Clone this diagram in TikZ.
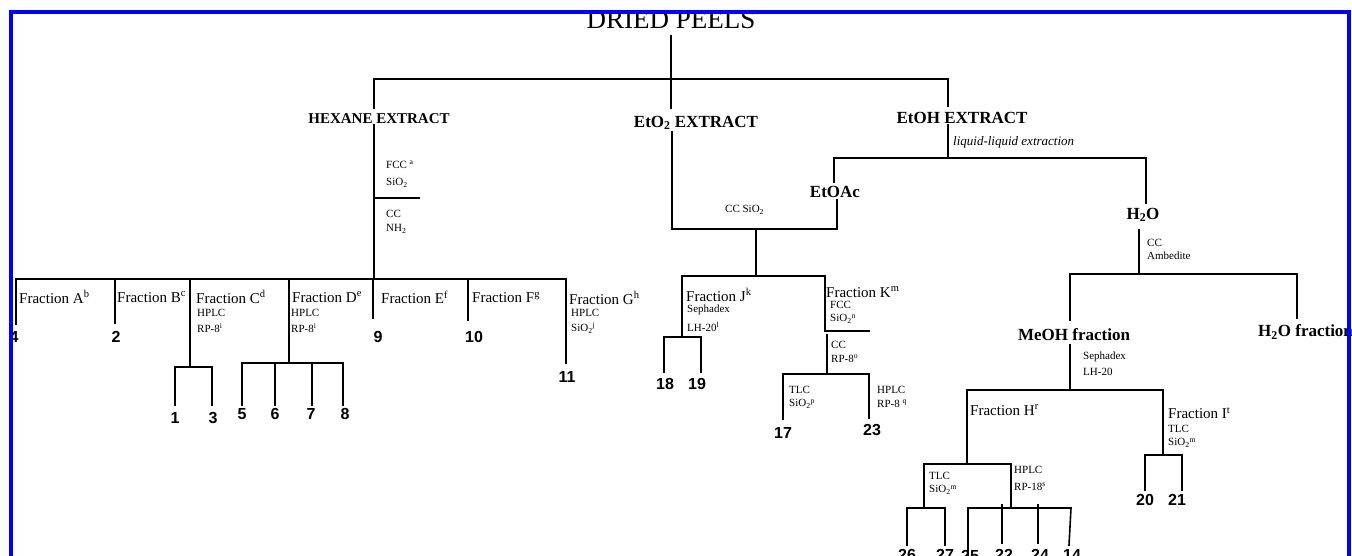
\documentclass[tikz,border=0pt]{standalone}
\usepackage{fontspec}
\setmainfont{Liberation Serif}
\newfontfamily\numfont{Liberation Sans}
\begin{document}
\begin{tikzpicture}[x=1pt,y=-1pt,
  ln/.style={line width=1.6pt, line cap=rect},
  big/.style={font=\fontsize{27}{31}\selectfont, inner sep=0pt},
  head/.style={font=\bfseries\fontsize{17}{20}\selectfont, inner sep=0pt},
  hhead/.style={font=\bfseries\fontsize{15}{18}\selectfont, inner sep=0pt},
  frac/.style={font=\fontsize{15}{18}\selectfont, inner sep=0pt, anchor=west},
  sm/.style={font=\fontsize{11}{13}\selectfont, inner sep=0pt, anchor=west},
  num/.style={font=\numfont\bfseries\fontsize{16}{19}\selectfont, inner sep=0pt},
  border/.style={draw=blue, line width=4pt}]
\useasboundingbox (0,0) rectangle (1352,556);
\fill[white] (0,0) rectangle (1352,556);

% ---------- text nodes ----------
\node[big, anchor=base] (peels) at (671,29) {DRIED PEELS};
\node[hhead] (hex) at (379,119) {HEXANE EXTRACT};
\node[head] (eto2) at (696,123) {EtO\textsubscript{2} EXTRACT};
\node[head] (etoh) at (962,118) {EtOH EXTRACT};
\node[sm, font=\itshape\fontsize{13}{15}\selectfont] (lle) at (953,142) {liquid-liquid extraction};

\node[sm] (fcc) at (386,165) {FCC \textsuperscript{a}};
\node[sm] (sio2a) at (386,183) {SiO\textsubscript{2}};
\node[sm] (cca) at (386,214) {CC};
\node[sm] (nh2) at (386,229) {NH\textsubscript{2}};

\node[frac] (fA) at (19,297) {Fraction A\textsuperscript{b}};
\node[frac] (fB) at (117,297) {Fraction B\textsuperscript{c}};
\node[frac] (fC) at (196,297) {Fraction C\textsuperscript{d}};
\node[frac] (fD) at (292,297) {Fraction D\textsuperscript{e}};
\node[frac] (fE) at (381,297) {Fraction E\textsuperscript{f}};
\node[frac] (fF) at (472,297) {Fraction F\textsuperscript{g}};
\node[frac] (fG) at (569,298) {Fraction G\textsuperscript{h}};
\node[sm] (hpC) at (197,313) {HPLC};
\node[sm] (rpC) at (197,328) {RP-8\textsuperscript{i}};
\node[sm] (hpD) at (291,313) {HPLC};
\node[sm] (rpD) at (291,328) {RP-8\textsuperscript{i}};
\node[sm] (hpG) at (571,313) {HPLC};
\node[sm] (siG) at (571,328) {SiO\textsubscript{2}\textsuperscript{j}};

\node[num] (c4) at (14,337) {4};
\node[num] (c2) at (116,337) {2};
\node[num] (c9) at (378,337) {9};
\node[num] (c10) at (474,337) {10};
\node[num] (c11) at (567,377) {11};
\node[num] (c1) at (175,418) {1};
\node[num] (c3) at (213,418) {3};
\node[num] (c5) at (242,414) {5};
\node[num] (c6) at (275,414) {6};
\node[num] (c7) at (311,414) {7};
\node[num] (c8) at (345,414) {8};

\node[sm] (ccsi) at (725,210) {CC SiO\textsubscript{2}};
\node[head] (etoac) at (835,192) {EtOAc};
\node[head] (h2o) at (1143,215) {H\textsubscript{2}O};
\node[sm] (ccb) at (1147,243) {CC};
\node[sm] (amb) at (1147,256) {Ambedite};
\node[head] (meoh) at (1074,335) {MeOH fraction};
\node[head, anchor=west] (h2of) at (1258,332) {H\textsubscript{2}O fraction};
\node[sm] (sep2) at (1083,357) {Sephadex};
\node[sm] (lh2) at (1083,372) {LH-20};

\node[frac] (fJ) at (686,295) {Fraction J\textsuperscript{k}};
\node[sm] (sepJ) at (687,310) {Sephadex};
\node[sm] (lhJ) at (687,327) {LH-20\textsuperscript{l}};
\node[num] (c18) at (665,384) {18};
\node[num] (c19) at (697,384) {19};
\node[frac] (fK) at (826,292) {Fraction K\textsuperscript{m}};
\node[sm] (fccK) at (830,305) {FCC};
\node[sm] (siK) at (830,319) {SiO\textsubscript{2}\textsuperscript{n}};
\node[sm] (ccK) at (831,345) {CC};
\node[sm] (rpK) at (831,359) {RP-8\textsuperscript{o}};
\node[sm] (tlcK) at (789,390) {TLC};
\node[sm] (siK2) at (789,404) {SiO\textsubscript{2}\textsuperscript{p}};
\node[sm] (hpK) at (877,390) {HPLC};
\node[sm] (rpK2) at (877,404) {RP-8 \textsuperscript{q}};
\node[num] (c17) at (783,433) {17};
\node[num] (c23) at (872,430) {23};

\node[frac] (fH) at (970,410) {Fraction H\textsuperscript{r}};
\node[frac] (fI) at (1168,413) {Fraction I\textsuperscript{t}};
\node[sm] (tlcI) at (1168,429) {TLC};
\node[sm] (siI) at (1168,443) {SiO\textsubscript{2}\textsuperscript{m}};
\node[sm] (tlcH) at (929,476) {TLC};
\node[sm] (siH) at (929,490) {SiO\textsubscript{2}\textsuperscript{m}};
\node[sm] (hpH) at (1014,470) {HPLC};
\node[sm] (rpH) at (1014,487) {RP-18\textsuperscript{s}};
\node[num] (c20) at (1145,500) {20};
\node[num] (c21) at (1177,500) {21};
\node[num] (c26) at (907,555) {26};
\node[num] (c27) at (945,555) {27};
\node[num] (c25) at (970,556) {25};
\node[num] (c22) at (1004,555) {22};
\node[num] (c24) at (1040,555) {24};
\node[num] (c14) at (1072,555) {14};

% ---------- coordinates ----------
\path (671,36) coordinate (p0) (671,108) coordinate (p1)
      (374,79) coordinate (tH) (948,79) coordinate (tE)
      (374,108) coordinate (hexa) (948,106) coordinate (etoha)
      (374,125) coordinate (hexb) (374,279) coordinate (hexj)
      (374,198) coordinate (hs0) (419,198) coordinate (hs1)
      (16,279) coordinate (jA) (566,279) coordinate (jG)
      (16,324) coordinate (vA) (115,323) coordinate (vB) (190,367) coordinate (vC)
      (289,363) coordinate (vD) (373,318) coordinate (vE) (468,320) coordinate (vF)
      (566,363) coordinate (vG)
      (175,405) coordinate (l1) (212,405) coordinate (l3)
      (242,405) coordinate (l5) (275,405) coordinate (l6) (312,405) coordinate (l7) (343,405) coordinate (l8)
      (672,132) coordinate (e2b) (672,229) coordinate (e2j) (837,229) coordinate (eac0) (837,200) coordinate (eac1)
      (756,229) coordinate (m1) (756,276) coordinate (m2)
      (682,276) coordinate (jT) (825,276) coordinate (kT)
      (682,337) coordinate (jB) (664,372) coordinate (l18) (701,372) coordinate (l19)
      (825,331) coordinate (kB) (869,331) coordinate (kS)
      (827,335) coordinate (kc) (827,374) coordinate (kd)
      (783,419) coordinate (l17) (869,418) coordinate (l23)
      (948,125) coordinate (ehb) (948,158) coordinate (ehj)
      (834,182) coordinate (eacT) (1146,203) coordinate (h2oT)
      (1139,230) coordinate (h2b) (1139,274) coordinate (h2j)
      (1070,320) coordinate (meT) (1297,318) coordinate (hfT)
      (1070,345) coordinate (meb) (1070,390) coordinate (mej)
      (967,464) coordinate (fHj) (1163,455) coordinate (fIj)
      (1145,490) coordinate (l20) (1182,490) coordinate (l21)
      (924,505) coordinate (tl) (1011,505) coordinate (hp)
      (924,508) coordinate (tlj) (1011,508) coordinate (hpj)
      (907,545) coordinate (l26) (945,545) coordinate (l27)
      (968,560) coordinate (l25) (1002,543) coordinate (l22) (1038,543) coordinate (l24)
      (1071,508) coordinate (c14t) (1069,545) coordinate (l14);

% ---------- connectors ----------
\draw[ln] (p0) -- (p1);
\draw[ln] (hexa) -- (tH) -- (tE) -- (etoha);
% hexane
\draw[ln] (hexb) -- (hexj);
\draw[ln] (hs0) -- (hs1);
\draw[ln] (vA) -- (jA) -- (jG) -- (vG);
\draw[ln] (vB) -- (vB |- jA);
\draw[ln] (vC) -- (vC |- jA);
\draw[ln] (vD) -- (vD |- jA);
\draw[ln] (vE) -- (vE |- jA);
\draw[ln] (vF) -- (vF |- jA);
\draw[ln] (l1) |- (vC) -| (l3);
\draw[ln] (l5) |- (vD) -| (l8);
\draw[ln] (l6) -- (l6 |- vD);
\draw[ln] (l7) -- (l7 |- vD);
% EtO2
\draw[ln] (e2b) -- (e2j) -- (eac0) -- (eac1);
\draw[ln] (m1) -- (m2);
\draw[ln] (jB) -- (jT) -- (kT) -- (kB) -- (kS);
\draw[ln] (l18) |- (jB) -| (l19);
\draw[ln] (kc) -- (kd);
\draw[ln] (l17) |- (kd) -| (l23);
% EtOH
\draw[ln] (ehb) -- (ehj);
\draw[ln] (eacT) |- (ehj) -| (h2oT);
\draw[ln] (h2b) -- (h2j);
\draw[ln] (meT) |- (h2j) -| (hfT);
\draw[ln] (meb) -- (mej);
\draw[ln] (fHj) |- (mej) -| (fIj);
\draw[ln] (l20) |- (fIj) -| (l21);
\draw[ln] (tl) |- (fHj) -| (hp);
\draw[ln] (tl) -- (tlj);
\draw[ln] (l26) |- (tlj) -| (l27);
\draw[ln] (hp) -- (hpj);
\draw[ln] (l25) |- (hpj) -- (c14t) -- (l14);
\draw[ln] (l22) -- (l22 |- hp);
\draw[ln] (l24) -- (l24 |- hp);

% ---------- frame ----------
\draw[border] (10.5,700) -- (10.5,12) -- (1348.5,12) -- (1348.5,700);
\end{tikzpicture}
\end{document}
